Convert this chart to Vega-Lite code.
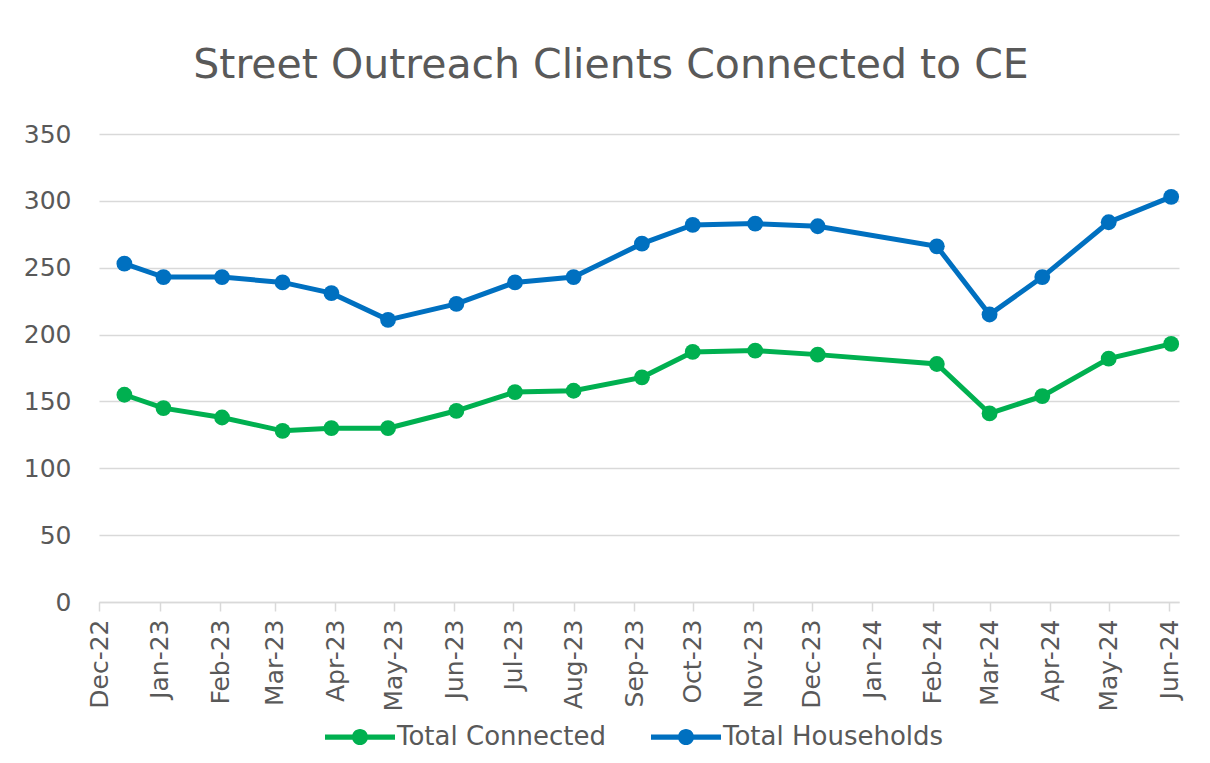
{
  "$schema": "https://vega.github.io/schema/vega-lite/v6.json",
  "width": 1080,
  "height": 468,
  "autosize": {"type": "none"},
  "padding": {"left": 99, "top": 134, "right": 31, "bottom": 161},
  "background": "white",
  "title": {
    "text": "Street Outreach Clients Connected to CE",
    "font": "DejaVu Sans",
    "fontSize": 41,
    "fontWeight": "normal",
    "color": "#595959",
    "anchor": "middle",
    "baseline": "alphabetic",
    "dx": -28,
    "offset": 3
  },
  "data": {
    "values": [
      {"date": "2022-12-14T00:00:00", "series": "Total Connected", "value": 155},
      {"date": "2023-01-03T00:00:00", "series": "Total Connected", "value": 145},
      {"date": "2023-02-02T00:00:00", "series": "Total Connected", "value": 138},
      {"date": "2023-03-05T00:00:00", "series": "Total Connected", "value": 128},
      {"date": "2023-03-30T00:00:00", "series": "Total Connected", "value": 130},
      {"date": "2023-04-28T00:00:00", "series": "Total Connected", "value": 130},
      {"date": "2023-06-02T00:00:00", "series": "Total Connected", "value": 143},
      {"date": "2023-07-02T00:00:00", "series": "Total Connected", "value": 157},
      {"date": "2023-08-01T00:00:00", "series": "Total Connected", "value": 158},
      {"date": "2023-09-05T00:00:00", "series": "Total Connected", "value": 168},
      {"date": "2023-10-01T00:00:00", "series": "Total Connected", "value": 187},
      {"date": "2023-11-02T00:00:00", "series": "Total Connected", "value": 188},
      {"date": "2023-12-04T00:00:00", "series": "Total Connected", "value": 185},
      {"date": "2024-02-03T00:00:00", "series": "Total Connected", "value": 178},
      {"date": "2024-03-01T00:00:00", "series": "Total Connected", "value": 141},
      {"date": "2024-03-28T00:00:00", "series": "Total Connected", "value": 154},
      {"date": "2024-05-01T00:00:00", "series": "Total Connected", "value": 182},
      {"date": "2024-06-02T00:00:00", "series": "Total Connected", "value": 193},
      {"date": "2022-12-14T00:00:00", "series": "Total Households", "value": 253},
      {"date": "2023-01-03T00:00:00", "series": "Total Households", "value": 243},
      {"date": "2023-02-02T00:00:00", "series": "Total Households", "value": 243},
      {"date": "2023-03-05T00:00:00", "series": "Total Households", "value": 239},
      {"date": "2023-03-30T00:00:00", "series": "Total Households", "value": 231},
      {"date": "2023-04-28T00:00:00", "series": "Total Households", "value": 211},
      {"date": "2023-06-02T00:00:00", "series": "Total Households", "value": 223},
      {"date": "2023-07-02T00:00:00", "series": "Total Households", "value": 239},
      {"date": "2023-08-01T00:00:00", "series": "Total Households", "value": 243},
      {"date": "2023-09-05T00:00:00", "series": "Total Households", "value": 268},
      {"date": "2023-10-01T00:00:00", "series": "Total Households", "value": 282},
      {"date": "2023-11-02T00:00:00", "series": "Total Households", "value": 283},
      {"date": "2023-12-04T00:00:00", "series": "Total Households", "value": 281},
      {"date": "2024-02-03T00:00:00", "series": "Total Households", "value": 266},
      {"date": "2024-03-01T00:00:00", "series": "Total Households", "value": 215},
      {"date": "2024-03-28T00:00:00", "series": "Total Households", "value": 243},
      {"date": "2024-05-01T00:00:00", "series": "Total Households", "value": 284},
      {"date": "2024-06-02T00:00:00", "series": "Total Households", "value": 303}
    ]
  },
  "encoding": {
    "x": {
      "field": "date",
      "type": "temporal",
      "scale": {
        "domain": [
          {"year": 2022, "month": 12, "date": 1},
          {"year": 2024, "month": 6, "date": 6}
        ]
      },
      "axis": {
        "title": null,
        "format": "%b-%y",
        "values": [
          {"year": 2022, "month": 12, "date": 1},
          {"year": 2023, "month": 1, "date": 1},
          {"year": 2023, "month": 2, "date": 1},
          {"year": 2023, "month": 3, "date": 1},
          {"year": 2023, "month": 4, "date": 1},
          {"year": 2023, "month": 5, "date": 1},
          {"year": 2023, "month": 6, "date": 1},
          {"year": 2023, "month": 7, "date": 1},
          {"year": 2023, "month": 8, "date": 1},
          {"year": 2023, "month": 9, "date": 1},
          {"year": 2023, "month": 10, "date": 1},
          {"year": 2023, "month": 11, "date": 1},
          {"year": 2023, "month": 12, "date": 1},
          {"year": 2024, "month": 1, "date": 1},
          {"year": 2024, "month": 2, "date": 1},
          {"year": 2024, "month": 3, "date": 1},
          {"year": 2024, "month": 4, "date": 1},
          {"year": 2024, "month": 5, "date": 1},
          {"year": 2024, "month": 6, "date": 1}
        ],
        "labelAngle": -90,
        "labelFont": "DejaVu Sans",
        "labelFontSize": 25,
        "labelColor": "#595959",
        "labelPadding": 8,
        "labelOverlap": false,
        "labelFlush": false,
        "grid": false,
        "domain": true,
        "domainColor": "#d9d9d9",
        "domainWidth": 1.5,
        "ticks": true,
        "tickColor": "#d9d9d9",
        "tickWidth": 1.5,
        "tickSize": 9
      }
    },
    "y": {
      "field": "value",
      "type": "quantitative",
      "scale": {"domain": [0, 350], "nice": false, "zero": true},
      "axis": {
        "title": null,
        "values": [0, 50, 100, 150, 200, 250, 300, 350],
        "labelFont": "DejaVu Sans",
        "labelFontSize": 25,
        "labelColor": "#595959",
        "labelPadding": 28,
        "domain": false,
        "ticks": false,
        "grid": true,
        "gridColor": "#d9d9d9",
        "gridWidth": 1.5
      }
    },
    "color": {
      "field": "series",
      "type": "nominal",
      "scale": {
        "domain": ["Total Connected", "Total Households"],
        "range": ["#00B050", "#0070C0"]
      },
      "legend": {
        "title": null,
        "orient": "none",
        "direction": "horizontal",
        "legendX": 226,
        "legendY": 568,
        "labelFont": "DejaVu Sans",
        "labelFontSize": 26,
        "labelColor": "#595959",
        "labelLimit": 0,
        "labelOffset": 2,
        "columnPadding": 45,
        "symbolType": "M-1,-0.075H1V0.075H-1Z M-0.23,0A0.23,0.23 0 1,1 0.23,0A0.23,0.23 0 1,1 -0.23,0Z",
        "symbolSize": 4900,
        "symbolStrokeWidth": 0,
        "encode": {
          "symbols": {
            "update": {
              "fill": {"scale": "color", "field": "value"},
              "fillOpacity": {"value": 1},
              "strokeWidth": {"value": 0}
            }
          }
        }
      }
    }
  },
  "layer": [
    {"mark": {"type": "line", "strokeWidth": 5}},
    {"mark": {"type": "point", "filled": true, "opacity": 1, "size": 250, "shape": "circle"}}
  ],
  "config": {
    "view": {"stroke": null}
  }
}
